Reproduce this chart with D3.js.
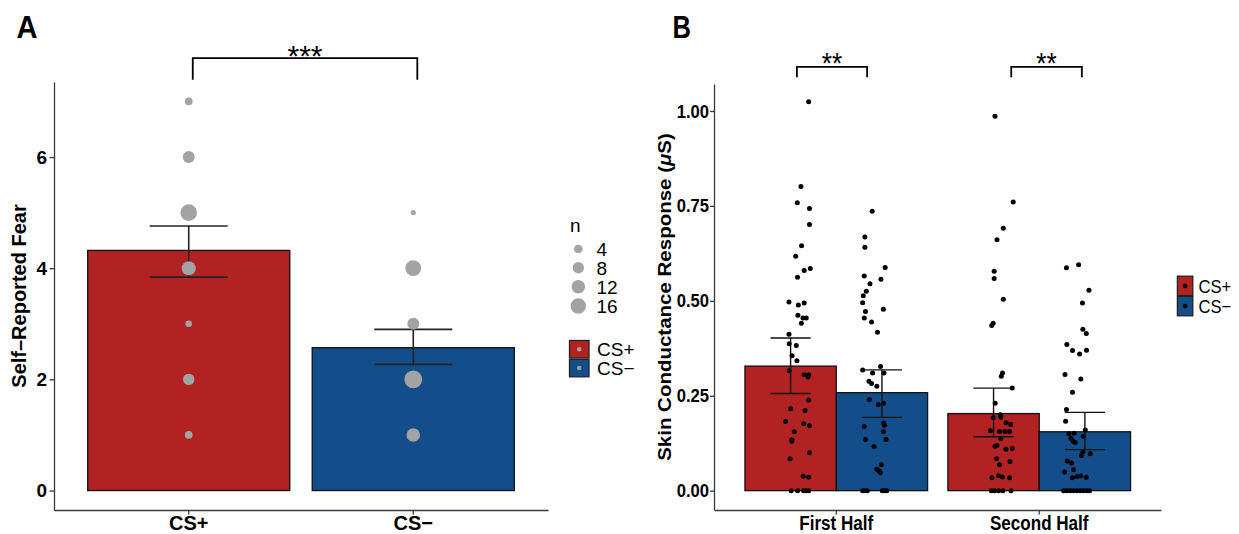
<!DOCTYPE html>
<html><head><meta charset="utf-8">
<script src="https://cdn.jsdelivr.net/npm/d3@7"></script>
<style>body{margin:0;background:#fff}text{font-family:"Liberation Sans",Arial,Helvetica,sans-serif}</style>
</head><body><svg id="c" width="1239" height="534"></svg>
<script>
// ---------- Panel A data ----------
const condA = ["CS+", "CS\u2212"];
const fearMean = [4.32, 2.57];
const fearSeLow = [3.84, 2.27];
const fearSeHigh = [4.76, 2.90];
const fearLevels = [1, 2, 3, 4, 5, 6, 7];
const fearCountPlus = [3, 8, 2, 13, 19, 9, 3];
const fearCountMinus = [12, 22, 9, 17, 1, 0, 0];
const nLegend = [4, 8, 12, 16];
const fearTicks = [0, 2, 4, 6];
const sigA = "***";

// ---------- Panel B data ----------
const halves = ["First Half", "Second Half"];
const condB = ["CS+", "CS\u2212"];
const scrMeanPlus = [0.328, 0.203];
const scrMeanMinus = [0.258, 0.155];
const scrLowPlus = [0.256, 0.142];
const scrHighPlus = [0.402, 0.270];
const scrLowMinus = [0.193, 0.108];
const scrHighMinus = [0.318, 0.206];
const scrTicks = [0, 0.25, 0.5, 0.75, 1.0];
const scrTickLabels = ["0.00", "0.25", "0.50", "0.75", "1.00"];
const sigB = ["**", "**"];
const sigBSpan = [[-0.194, 0.152], [-0.138, 0.210]];

// individual subject responses (value) and jitter (category units)
const fhPlus = [1.024,0.801,0.758,0.743,0.701,0.645,0.617,0.585,0.580,0.562,0.497,0.494,0.489,0.462,0.455,0.455,0.441,0.412,0.387,0.382,0.355,0.342,0.316,0.305,0.305,0.299,0.239,0.216,0.211,0.182,0.176,0.171,0.155,0.134,0.130,0.100,0.084,0.038,0.035,0,0,0,0,0];
const fhPlusJit = [-0.136,-0.174,-0.192,-0.132,-0.132,-0.171,-0.200,-0.128,-0.158,-0.191,-0.233,-0.158,-0.187,-0.189,-0.164,-0.148,-0.172,-0.233,-0.232,-0.197,-0.218,-0.194,-0.232,-0.159,-0.136,-0.139,-0.136,-0.225,-0.154,-0.250,-0.161,-0.132,-0.207,-0.219,-0.219,-0.132,-0.228,-0.163,-0.136,-0.222,-0.191,-0.161,-0.149,-0.136];
const fhMinus = [0.736,0.668,0.641,0.588,0.565,0.557,0.545,0.525,0.513,0.495,0.478,0.472,0.455,0.444,0.417,0.327,0.318,0.310,0.310,0.288,0.282,0.275,0.240,0.230,0.227,0.178,0.172,0.169,0.156,0.135,0.135,0.116,0.068,0.056,0.052,0.047,0,0,0,0,0,0];
const fhMinusJit = [0.177,0.141,0.141,0.241,0.138,0.220,0.166,0.148,0.133,0.130,0.232,0.144,0.138,0.174,0.203,0.218,0.130,0.179,0.235,0.161,0.174,0.200,0.163,0.233,0.207,0.233,0.238,0.138,0.232,0.144,0.245,0.186,0.222,0.200,0.212,0.217,0.130,0.140,0.153,0.227,0.239,0.249];
const shPlus = [0.986,0.760,0.691,0.661,0.578,0.559,0.504,0.441,0.435,0.310,0.301,0.270,0.230,0.200,0.193,0.192,0.179,0.174,0.158,0.156,0.156,0.156,0.137,0.119,0.117,0.111,0.109,0.084,0.077,0.068,0.039,0.036,0.034,0.034,0,0,0,0,0];
const shPlusJit = [-0.218,-0.128,-0.177,-0.208,-0.222,-0.222,-0.177,-0.227,-0.234,-0.181,-0.187,-0.133,-0.217,-0.192,-0.189,-0.227,-0.164,-0.141,-0.241,-0.196,-0.169,-0.146,-0.189,-0.208,-0.218,-0.133,-0.164,-0.210,-0.144,-0.196,-0.200,-0.182,-0.233,-0.146,-0.236,-0.220,-0.200,-0.179,-0.139];
const shMinus = [0.595,0.587,0.528,0.494,0.425,0.414,0.385,0.370,0.369,0.360,0.306,0.294,0.259,0.214,0.183,0.160,0.151,0.150,0.143,0.138,0.131,0.127,0.102,0.097,0.092,0.078,0.073,0.055,0.049,0.039,0.037,0.035,0.034,0,0,0,0,0,0,0,0,0];
const shMinusJit = [0.194,0.134,0.245,0.213,0.215,0.232,0.136,0.233,0.164,0.199,0.127,0.205,0.164,0.134,0.130,0.227,0.172,0.146,0.217,0.156,0.166,0.177,0.215,0.251,0.208,0.138,0.159,0.169,0.125,0.205,0.186,0.232,0.163,0.120,0.136,0.153,0.169,0.186,0.202,0.218,0.235,0.248];

// ---------- styles ----------
const RED = "#b22222", BLUE = "#134e8b", GREY = "#a3a3a3", AXIS = "#3a3a3a";
const SX_B = 0.875;

const svg = d3.select("#c");
svg.append("rect").attr("width", 1239).attr("height", 534).attr("fill", "#fff");

// ================= PANEL A =================
const gA = svg.append("g");
const yA = d3.scaleLinear().domain([-0.35, 7.35]).range([510, 82]);
const xA = d3.scaleBand().domain(condA).range([54, 548]).paddingInner(0.1).paddingOuter(0.15);
const rA = d3.scaleSqrt().domain([4, 16]).range([4.3, 7.7]);
const fillA = d3.scaleOrdinal().domain(condA).range([RED, BLUE]);

// bars
gA.selectAll("rect.bar").data(condA).join("rect")
  .attr("x", d => xA(d)).attr("width", xA.bandwidth())
  .attr("y", (d, i) => yA(fearMean[i])).attr("height", (d, i) => yA(0) - yA(fearMean[i]))
  .attr("fill", d => fillA(d)).attr("stroke", "#111").attr("stroke-width", 1.3);

// error bars
const capA = xA.bandwidth() * 0.193;
condA.forEach((c, i) => {
  const cx = xA(c) + xA.bandwidth() / 2;
  const g = gA.append("g").attr("stroke", "#222").attr("stroke-width", 1.6);
  g.append("line").attr("x1", cx).attr("x2", cx).attr("y1", yA(fearSeLow[i])).attr("y2", yA(fearSeHigh[i]));
  g.append("line").attr("x1", cx - capA).attr("x2", cx + capA).attr("y1", yA(fearSeLow[i])).attr("y2", yA(fearSeLow[i]));
  g.append("line").attr("x1", cx - capA).attr("x2", cx + capA).attr("y1", yA(fearSeHigh[i])).attr("y2", yA(fearSeHigh[i]));
});

// count points
[fearCountPlus, fearCountMinus].forEach((counts, ci) => {
  const cx = xA(condA[ci]) + xA.bandwidth() / 2;
  const pts = fearLevels.map((lv, k) => ({ lv, n: counts[k] })).filter(d => d.n > 0);
  gA.selectAll(null).data(pts).join("circle")
    .attr("cx", cx).attr("cy", d => yA(d.lv)).attr("r", d => rA(d.n))
    .attr("fill", GREY);
});

// axes
const axLA = gA.append("g").attr("transform", "translate(54,0)")
  .call(d3.axisLeft(yA).tickValues(fearTicks).tickSize(4.5).tickSizeOuter(0).tickPadding(2.5));
const axBA = gA.append("g").attr("transform", "translate(0,510)")
  .call(d3.axisBottom(xA).tickSize(4.5).tickSizeOuter(0).tickPadding(1.5));
[axLA, axBA].forEach(a => {
  a.select(".domain").attr("stroke", AXIS).attr("stroke-width", 1.3);
  a.selectAll(".tick line").attr("stroke", AXIS).attr("stroke-width", 1.3);
});
axLA.selectAll("text").attr("font-size", 19).attr("font-weight", "bold").attr("fill", "#000")
  .style("font-family", '"Liberation Sans",Arial,sans-serif');
axBA.selectAll("text").attr("font-size", 20).attr("font-weight", "bold").attr("fill", "#000")
  .style("font-family", '"Liberation Sans",Arial,sans-serif');

// y title
gA.append("text").attr("transform", "translate(26,296) rotate(-90)")
  .attr("text-anchor", "middle").attr("font-size", 20).attr("font-weight", "bold")
  .text("Self\u2013Reported Fear");

// panel label
gA.append("text").attr("transform", "translate(16.5,38.2) scale(0.91,1)")
  .attr("font-size", 32).attr("font-weight", "bold").text("A");

// significance bracket
{
  const x1 = xA(condA[0]) + xA.bandwidth() / 2 + xA.step() * 0.018;
  const x2 = xA(condA[1]) + xA.bandwidth() / 2 + xA.step() * 0.018;
  const yTop = yA(7.78), yLeg = yA(7.39);
  gA.append("path").attr("d", `M${x1},${yLeg}V${yTop}H${x2}V${yLeg}`)
    .attr("fill", "none").attr("stroke", "#000").attr("stroke-width", 1.8);
  gA.append("text").attr("x", (x1 + x2) / 2).attr("y", 66).attr("text-anchor", "middle")
    .attr("font-size", 30).text(sigA);
}

// legend A (size)
{
  const lg = gA.append("g");
  lg.append("text").attr("x", 570).attr("y", 232).attr("font-size", 19).text("n");
  const ys = [249, 267.7, 286.7, 306];
  nLegend.forEach((n, i) => {
    lg.append("circle").attr("cx", 578.3).attr("cy", ys[i]).attr("r", rA(n)).attr("fill", GREY);
    lg.append("text").attr("x", 596.5).attr("y", ys[i]).attr("dy", "0.36em").attr("font-size", 19).text(n);
  });
  const ky = [340.5, 359.3];
  condA.forEach((c, i) => {
    lg.append("rect").attr("x", 569.5).attr("y", ky[i]).attr("width", 19.5).attr("height", 17.5)
      .attr("fill", fillA(c)).attr("stroke", "#222").attr("stroke-width", 1.3);
    lg.append("circle").attr("cx", 579.2).attr("cy", ky[i] + 8.75).attr("r", 2.2).attr("fill", GREY);
    lg.append("text").attr("x", 597).attr("y", ky[i] + 8.75).attr("dy", "0.36em").attr("font-size", 19).text(c);
  });
}

// ================= PANEL B =================
const gB = svg.append("g");
const yB = d3.scaleLinear().domain([-0.051, 1.071]).range([510, 84]);
const xB = d3.scaleBand().domain(halves).range([714.5, 1161]).paddingInner(0.1).paddingOuter(0.15);
const xSub = d3.scaleBand().domain(condB).range([0, xB.bandwidth()]);
const fillB = d3.scaleOrdinal().domain(condB).range([RED, BLUE]);

const means = [scrMeanPlus, scrMeanMinus];
const lows = [scrLowPlus, scrLowMinus];
const highs = [scrHighPlus, scrHighMinus];

halves.forEach((h, hi) => {
  condB.forEach((c, ci) => {
    gB.append("rect")
      .attr("x", xB(h) + xSub(c)).attr("width", xSub.bandwidth())
      .attr("y", yB(means[ci][hi])).attr("height", yB(0) - yB(means[ci][hi]))
      .attr("fill", fillB(c)).attr("stroke", "#111").attr("stroke-width", 1.3);
  });
});

// points
const groups = [
  { h: halves[0], v: fhPlus, j: fhPlusJit },
  { h: halves[0], v: fhMinus, j: fhMinusJit },
  { h: halves[1], v: shPlus, j: shPlusJit },
  { h: halves[1], v: shMinus, j: shMinusJit }
];
groups.forEach(gr => {
  const cx = xB(gr.h) + xB.bandwidth() / 2;
  gB.selectAll(null).data(gr.v).join("circle")
    .attr("cx", (d, i) => cx + gr.j[i] * xB.step())
    .attr("cy", d => yB(d)).attr("r", 2.5).attr("fill", "#000");
});

// error bars
const capB = xSub.bandwidth() * 0.22;
halves.forEach((h, hi) => {
  condB.forEach((c, ci) => {
    const cx = xB(h) + xSub(c) + xSub.bandwidth() / 2;
    const g = gB.append("g").attr("stroke", "#111").attr("stroke-width", 1.4);
    g.append("line").attr("x1", cx).attr("x2", cx).attr("y1", yB(lows[ci][hi])).attr("y2", yB(highs[ci][hi]));
    g.append("line").attr("x1", cx - capB).attr("x2", cx + capB).attr("y1", yB(lows[ci][hi])).attr("y2", yB(lows[ci][hi]));
    g.append("line").attr("x1", cx - capB).attr("x2", cx + capB).attr("y1", yB(highs[ci][hi])).attr("y2", yB(highs[ci][hi]));
  });
});

// axes
const axLB = gB.append("g").attr("transform", "translate(714,0)")
  .call(d3.axisLeft(yB).tickValues(scrTicks).tickFormat((d, i) => scrTickLabels[i]).tickSize(4).tickSizeOuter(0));
const axBB = gB.append("g").attr("transform", "translate(0,510)")
  .call(d3.axisBottom(xB).tickSize(4.5).tickSizeOuter(0).tickPadding(1.5));
[axLB, axBB].forEach(a => {
  a.select(".domain").attr("stroke", AXIS).attr("stroke-width", 1.3);
  a.selectAll(".tick line").attr("stroke", AXIS).attr("stroke-width", 1.3);
});
axLB.selectAll("text").attr("font-size", 19).attr("font-weight", "bold").attr("fill", "#000")
  .style("font-family", '"Liberation Sans",Arial,sans-serif')
  .attr("x", -5 / SX_B).attr("transform", `scale(${SX_B},1)`);
axBB.selectAll("text").attr("font-size", 19.5).attr("font-weight", "bold").attr("fill", "#000")
  .style("font-family", '"Liberation Sans",Arial,sans-serif')
  .attr("transform", `scale(${SX_B},1)`);

// y title
{
  const t = gB.append("text").attr("transform", `translate(671,297) scale(${SX_B},1) rotate(-90)`)
    .attr("text-anchor", "middle").attr("font-size", 20.5).attr("font-weight", "bold");
  t.append("tspan").text("Skin Conductance Response (");
  t.append("tspan").attr("font-style", "italic").text("\u03bc");
  t.append("tspan").text("S)");
}

// panel label
gB.append("text").attr("transform", "translate(672.5,38.2) scale(0.8,1)")
  .attr("font-size", 32).attr("font-weight", "bold").text("B");

// significance brackets
halves.forEach((h, hi) => {
  const c = xB(h) + xB.bandwidth() / 2;
  const x1 = c + sigBSpan[hi][0] * xB.step(), x2 = c + sigBSpan[hi][1] * xB.step();
  const yTop = yB(1.116), yLeg = yB(1.089);
  gB.append("path").attr("d", `M${x1},${yLeg}V${yTop}H${x2}V${yLeg}`)
    .attr("fill", "none").attr("stroke", "#000").attr("stroke-width", 1.8);
  gB.append("text").attr("transform", `translate(${(x1 + x2) / 2},72.5) scale(${SX_B},1)`)
    .attr("text-anchor", "middle").attr("font-size", 30).text(sigB[hi]);
});

// legend B
{
  const ky = [276.2, 296.4];
  condB.forEach((c, i) => {
    gB.append("rect").attr("x", 1177.4).attr("y", ky[i]).attr("width", 15.4).attr("height", 19.4)
      .attr("fill", fillB(c)).attr("stroke", "#222").attr("stroke-width", 1.3);
    gB.append("circle").attr("cx", 1185.1).attr("cy", ky[i] + 9.7).attr("r", 2.4).attr("fill", "#000");
    gB.append("text").attr("transform", `translate(1198.4,${ky[i] + 9.7}) scale(${SX_B},1)`)
      .attr("dy", "0.36em").attr("font-size", 19).text(c);
  });
}
</script></body></html>
